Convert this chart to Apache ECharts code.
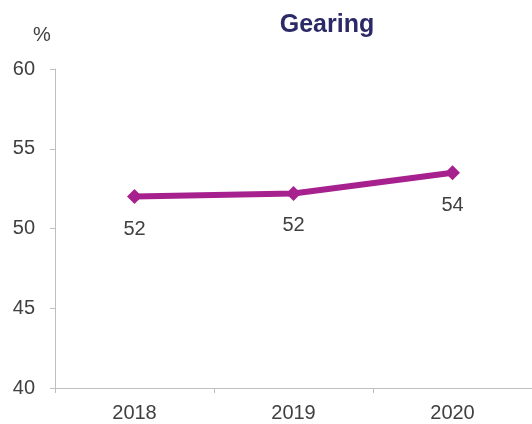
<!DOCTYPE html>
<html>
<head>
<meta charset="utf-8">
<script src="https://cdn.jsdelivr.net/npm/echarts@6/dist/echarts.min.js"></script>
<style>
  html, body { margin: 0; padding: 0; background: #fff; }
  #chart { width: 532px; height: 424px; }
</style>
</head>
<body>
<div id="chart"></div>
<script>
// gearing by year, %
var years = ['2018', '2019', '2020'];
var gearing = [52.0, 52.2, 53.5];
var yTicks = { min: 40, max: 60, interval: 5 };

var chartDom = document.getElementById('chart');
var myChart = echarts.init(chartDom);
var option;

var font = '"Liberation Sans", Arial, sans-serif';

option = {
  backgroundColor: '#ffffff',
  animation: false,
  title: {
    text: 'Gearing',
    left: 322,
    top: 8,
    textAlign: 'center',
    textStyle: { fontFamily: font, fontSize: 25, fontWeight: 'bold', color: '#2b2a66' }
  },
  graphic: [
    {
      type: 'text',
      left: 33,
      top: 25,
      style: { text: '%', font: '20px ' + font, fill: '#404040' }
    }
  ],
  grid: { left: 55, right: -4, top: 69, bottom: 36 },
  xAxis: {
    type: 'category',
    data: years,
    boundaryGap: true,
    axisLine: { lineStyle: { color: '#bfbfbf', width: 1 } },
    axisTick: { show: true, length: 5, lineStyle: { color: '#bfbfbf' } },
    axisLabel: { margin: 15, fontFamily: font, fontSize: 20, color: '#404040' }
  },
  yAxis: {
    type: 'value',
    min: yTicks.min,
    max: yTicks.max,
    interval: yTicks.interval,
    splitLine: { show: false },
    axisLine: { show: true, lineStyle: { color: '#bfbfbf', width: 1 } },
    axisTick: { show: true, length: 5, lineStyle: { color: '#bfbfbf' } },
    axisLabel: { margin: 20, fontFamily: font, fontSize: 20, color: '#404040' }
  },
  series: [
    {
      name: 'Gearing',
      type: 'line',
      data: gearing,
      symbol: 'diamond',
      symbolSize: 15,
      lineStyle: { color: '#a7218e', width: 6 },
      itemStyle: { color: '#a7218e' },
      label: {
        show: true,
        position: 'bottom',
        distance: 15,
        fontFamily: font,
        fontSize: 20,
        color: '#404040',
        formatter: function (p) { return Math.round(p.value); }
      }
    }
  ]
};
option && myChart.setOption(option);
</script>
</body>
</html>
